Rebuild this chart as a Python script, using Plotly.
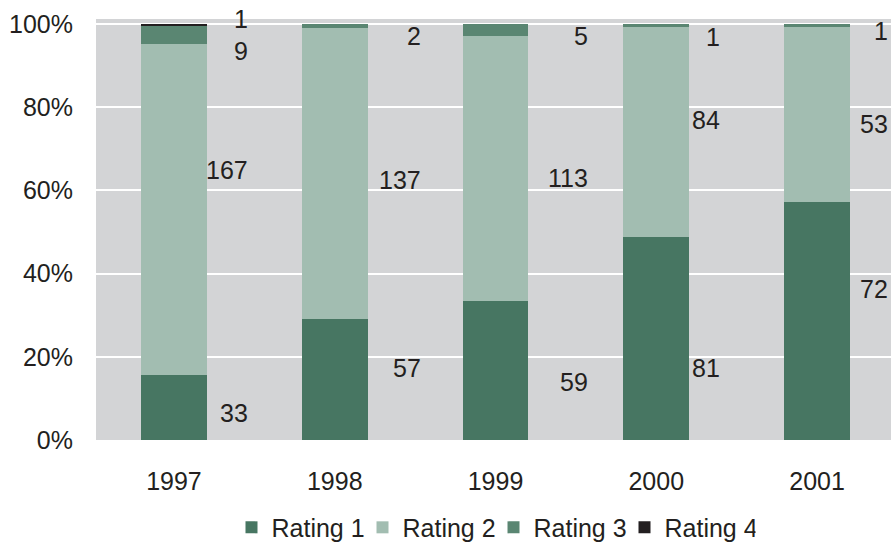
import plotly.graph_objects as go

years = ["1997", "1998", "1999", "2000", "2001"]
series_names = ["Rating 1", "Rating 2", "Rating 3", "Rating 4"]
rating1 = [33, 57, 59, 81, 72]
rating2 = [167, 137, 113, 84, 53]
rating3 = [9, 2, 5, 1, 1]
rating4 = [1, 0, 0, 0, 0]
y_ticks = [0, 20, 40, 60, 80, 100]
y_tick_labels = ["0%", "20%", "40%", "60%", "80%", "100%"]

# label placement (layout only): right-edge offset per year, vertical position (%) per label
label_dx = [0.473, 0.547, 0.588, 0.41, 0.455]
label_y = {
    "Rating 1": [6.5, 17.3, 13.9, 17.3, 36.4],
    "Rating 2": [64.9, 62.6, 63.0, 76.9, 75.9],
    "Rating 3": [93.6, 97.2, 97.2, 96.9, 98.2],
    "Rating 4": [101.2, None, None, None, None],
}

colors = ["#477662", "#a2bdb1", "#5a8672", "#231f20"]
series = [rating1, rating2, rating3, rating4]
totals = [sum(v) for v in zip(*series)]

fig = go.Figure()
for name, vals, col in zip(series_names, series, colors):
    pct = [v / t * 100 for v, t in zip(vals, totals)]
    fig.add_trace(go.Bar(
        x=list(range(len(years))), y=pct, name=name, marker=dict(color=col, line=dict(width=0)),
        width=0.41, hoverinfo="skip",
    ))

FONT = "Liberation Sans, Arial, Helvetica, sans-serif"
TXT = "#231f20"
annotations = []
for name, vals in zip(series_names, series):
    for i, v in enumerate(vals):
        yy = label_y[name][i]
        if v == 0 or yy is None:
            continue
        annotations.append(dict(
            x=i + label_dx[i], y=yy, xref="x", yref="y", text=str(v), showarrow=False,
            xanchor="right", yanchor="middle", font=dict(family=FONT, size=25, color=TXT),
        ))

fig.update_layout(
    barmode="stack",
    width=891, height=543,
    margin=dict(l=96, r=0, t=19, b=103, autoexpand=False),
    paper_bgcolor="white",
    plot_bgcolor="#d3d4d6",
    bargap=0,
    font=dict(family=FONT, size=25, color=TXT),
    annotations=annotations,
    xaxis=dict(
        range=[-0.485, 4.46], tickmode="array", tickvals=list(range(len(years))), ticktext=years,
        showgrid=False, zeroline=False, showline=False, ticks="", ticklabelstandoff=24,
        tickfont=dict(family=FONT, size=25, color=TXT), automargin=False,
    ),
    yaxis=dict(
        range=[0, 101.2], tickmode="array", tickvals=y_ticks, ticktext=y_tick_labels,
        showgrid=True, gridcolor="white", gridwidth=2, zeroline=False, showline=False,
        ticks="", ticklabelstandoff=22, tickfont=dict(family=FONT, size=25, color=TXT),
        automargin=False,
    ),
    legend=dict(
        orientation="h", x=0.5, xanchor="center", y=-0.208, yanchor="middle",
        font=dict(family=FONT, size=25, color=TXT), itemwidth=30, traceorder="normal",
        entrywidth=86, bgcolor="rgba(0,0,0,0)",
    ),
    showlegend=True,
)

fig.write_html(
    "out.html",
    config={"displayModeBar": False},
    post_script="document.body.style.margin='0';document.body.style.overflow='hidden';",
)
